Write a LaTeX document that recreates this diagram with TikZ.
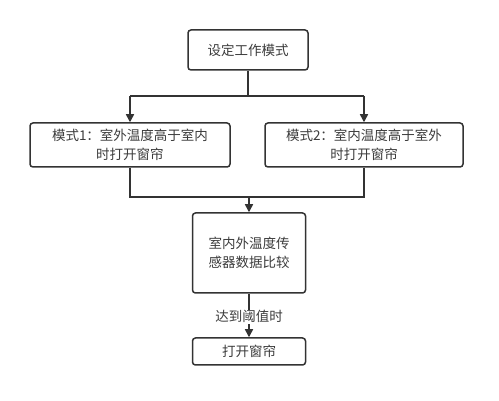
\documentclass[tikz,border=0pt]{standalone}
\usepackage{fontspec}
\newfontfamily\cjk{Noto Sans CJK SC}
\definecolor{lineg}{RGB}{51, 51, 51}
\definecolor{textg}{RGB}{60, 60, 60}
\usetikzlibrary{arrows.meta, positioning, calc}

\begin{document}
\begin{tikzpicture}[
  x=1pt, y=-1pt,
  box/.style={draw=lineg, fill=white, rounded corners=3pt, line width=1.5pt, align=center, inner sep=0pt,
    text=textg, font=\cjk\fontsize{13.5}{19}\selectfont, minimum height=#1},
  box/.default=40pt,
  flow/.style={draw=lineg, line width=1.5pt},
  arr/.style={flow, -{Triangle[length=8pt, width=8pt]}},
]
  \useasboundingbox (0,0) rectangle (499,401);

  \node[box, minimum width=120pt] (mode) at (248, 50) {设定工作模式};
  \node[box=44pt, minimum width=200pt] (m1) at (130, 145) {模式1：室外温度高于室内\\时打开窗帘};
  \node[box=44pt, minimum width=198pt] (m2) at (364, 145) {模式2：室内温度高于室外\\时打开窗帘};
  \node[box=80pt, minimum width=113pt] (cmp) at (249, 253) {室内外温度传\\感器数据比较};
  \node[box=27pt, minimum width=113pt] (open) at (249, 351.5) {打开窗帘};

  \coordinate (split) at (mode.south |- 0,96);
  \coordinate (sl) at (m1.north |- split);
  \coordinate (sr) at (m2.north |- split);
  \coordinate (jl) at (m1.south |- 0,197);
  \coordinate (jr) at (m2.south |- jl);
  \coordinate (join) at (cmp.north |- jl);

  \draw[flow] (mode.south) -- (split);
  \draw[flow] (sl) -- (sr);
  \draw[arr] (sl) -- (m1.north);
  \draw[arr] (sr) -- (m2.north);
  \draw[flow] (m1.south) -- (jl) -- (jr) -- (m2.south);
  \draw[arr] (join) -- (cmp.north);
  \draw[arr] (cmp.south) -- node[fill=white, inner sep=1pt, text=textg, font=\cjk\fontsize{13.5}{15}\selectfont, pos=0.53] {达到阈值时} (open.north);
\end{tikzpicture}
\end{document}
